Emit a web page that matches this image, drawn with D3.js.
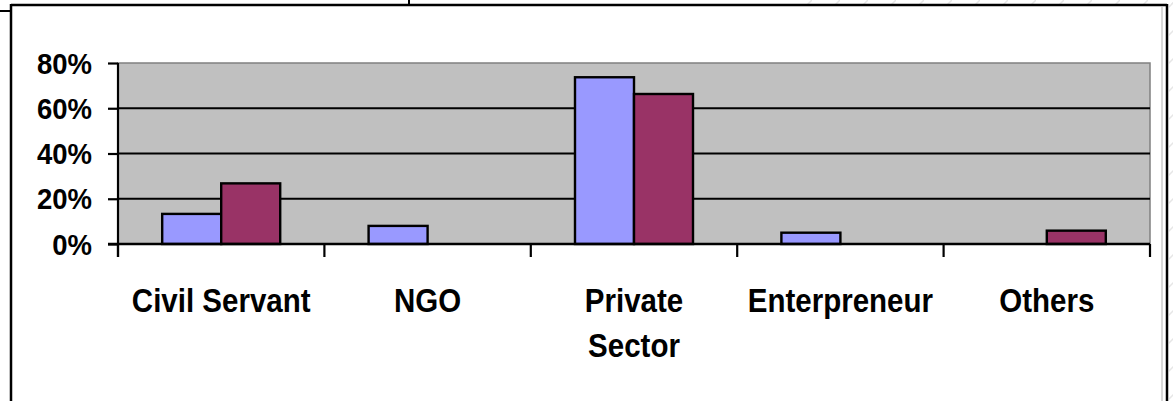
<!DOCTYPE html>
<html>
<head>
<meta charset="utf-8">
<script src="https://cdn.jsdelivr.net/npm/d3@7/dist/d3.min.js"></script>
<style>
  html, body { margin: 0; padding: 0; background: #fff; }
  svg { display: block; }
  text { font-family: "Liberation Sans", Arial, sans-serif; font-weight: bold; fill: #000; }
</style>
</head>
<body>
<svg id="chart" width="1173" height="401"></svg>
<script>
// ---- Data ----
const categories = ["Civil Servant", "NGO", "Private Sector", "Enterpreneur", "Others"];
const categoryLines = [["Civil Servant"], ["NGO"], ["Private", "Sector"], ["Enterpreneur"], ["Others"]];
const seriesNames = ["Series 1", "Series 2"];
const series1 = [0.133, 0.08, 0.737, 0.05, 0];
const series2 = [0.268, 0, 0.663, 0, 0.059];
const yTicks = [0, 0.2, 0.4, 0.6, 0.8];
const seriesColors = ["#9999FF", "#993366"];

const svg = d3.select("#chart");

// ---- faint hatch outside frame ----
const defs = svg.append("defs");
const pat = defs.append("pattern").attr("id", "hatch").attr("patternUnits", "userSpaceOnUse")
  .attr("width", 28).attr("height", 28);
pat.append("line").attr("x1", 0).attr("y1", 28).attr("x2", 28).attr("y2", 0)
  .attr("stroke", "#e6e6e6").attr("stroke-width", 1.5);
svg.append("rect").attr("x", 800).attr("y", 0).attr("width", 373).attr("height", 4).attr("fill", "url(#hatch)");
svg.append("rect").attr("x", 1169).attr("y", 0).attr("width", 4).attr("height", 401).attr("fill", "url(#hatch)");

// ---- outer frame ----
const frame = svg.append("g").attr("stroke", "#000").attr("fill", "none");
frame.append("line").attr("x1", 11).attr("y1", 5).attr("x2", 1167).attr("y2", 5).attr("stroke-width", 2.5);
frame.append("line").attr("x1", 11).attr("y1", 4).attr("x2", 11).attr("y2", 401).attr("stroke-width", 2.5);
frame.append("line").attr("x1", 1167).attr("y1", 4).attr("x2", 1167).attr("y2", 401).attr("stroke-width", 2.5);
frame.append("line").attr("x1", 0).attr("y1", 11).attr("x2", 11).attr("y2", 11).attr("stroke-width", 2);
frame.append("line").attr("x1", 409).attr("y1", 0).attr("x2", 409).attr("y2", 5).attr("stroke-width", 2);
svg.append("line").attr("x1", 1162).attr("y1", 7).attr("x2", 1162).attr("y2", 401)
  .attr("stroke", "#b0b0b0").attr("stroke-width", 1);

// ---- scales ----
const plot = { left: 118, right: 1150, top: 63, bottom: 244 };
const x = d3.scaleBand().domain(categories).range([plot.left, plot.right]).paddingInner(0).paddingOuter(0);
const xs = d3.scaleBand().domain(seriesNames).range([0, x.bandwidth()]).paddingInner(0).paddingOuter(0.749);
const y = d3.scaleLinear().domain([0, 0.8]).range([plot.bottom, plot.top]);

// plot background
svg.append("rect").attr("x", plot.left).attr("y", plot.top)
  .attr("width", plot.right - plot.left).attr("height", plot.bottom - plot.top)
  .attr("fill", "#C0C0C0").attr("stroke", "#808080").attr("stroke-width", 1.5);

// gridlines
svg.append("g").selectAll("line").data(yTicks.filter(d => d > 0 && d < 0.8)).join("line")
  .attr("x1", plot.left).attr("x2", plot.right)
  .attr("y1", d => y(d)).attr("y2", d => y(d))
  .attr("stroke", "#000").attr("stroke-width", 2.2);

// bars
const barData = [];
categories.forEach((c, i) => {
  [series1, series2].forEach((s, j) => {
    if (s[i] > 0) barData.push({ cat: c, ser: seriesNames[j], v: s[i], color: seriesColors[j] });
  });
});
svg.append("g").selectAll("rect").data(barData).join("rect")
  .attr("x", d => x(d.cat) + xs(d.ser))
  .attr("width", xs.bandwidth())
  .attr("y", d => y(d.v))
  .attr("height", d => y(0) - y(d.v))
  .attr("fill", d => d.color)
  .attr("stroke", "#000").attr("stroke-width", 2.4);

// y axis
const yAxis = svg.append("g").attr("transform", `translate(${plot.left},0)`)
  .call(d3.axisLeft(y).tickValues(yTicks).tickFormat(d3.format(".0%")).tickSize(10).tickPadding(16));
yAxis.select(".domain").remove();
yAxis.selectAll(".tick line").attr("stroke", "#000").attr("stroke-width", 2.2);
yAxis.selectAll(".tick text")
  .attr("font-size", 27.5).attr("font-family", "Liberation Sans, Arial, sans-serif")
  .attr("font-weight", "bold").attr("fill", "#000")
  .attr("x", null).attr("dy", null).attr("y", 0)
  .attr("transform", "translate(-26,10) scale(1,1.08)");
svg.append("line").attr("x1", plot.left).attr("x2", plot.left).attr("y1", plot.top).attr("y2", plot.bottom + 13)
  .attr("stroke", "#000").attr("stroke-width", 2.2);

// x axis line
svg.append("line").attr("x1", plot.left - 10).attr("x2", plot.right).attr("y1", plot.bottom).attr("y2", plot.bottom)
  .attr("stroke", "#000").attr("stroke-width", 2.5);

// boundary ticks
const bounds = categories.map(c => x(c)).concat([x.range()[1]]);
svg.append("g").selectAll("line").data(bounds).join("line")
  .attr("x1", d => d).attr("x2", d => d).attr("y1", plot.bottom).attr("y2", plot.bottom + 13)
  .attr("stroke", "#000").attr("stroke-width", 2.2);

// category labels
const xAxis = svg.append("g").attr("transform", `translate(0,${plot.bottom})`)
  .call(d3.axisBottom(x).tickSize(0).tickFormat(""));
xAxis.select(".domain").remove();
xAxis.selectAll(".tick").each(function (d, i) {
  const g = d3.select(this);
  categoryLines[i].forEach((ln, k) => {
    g.append("text").attr("text-anchor", "middle").attr("font-size", 29.5)
      .attr("transform", `translate(0,${68 + k * 45}) scale(1,1.1)`)
      .text(ln);
  });
});
</script>
</body>
</html>
